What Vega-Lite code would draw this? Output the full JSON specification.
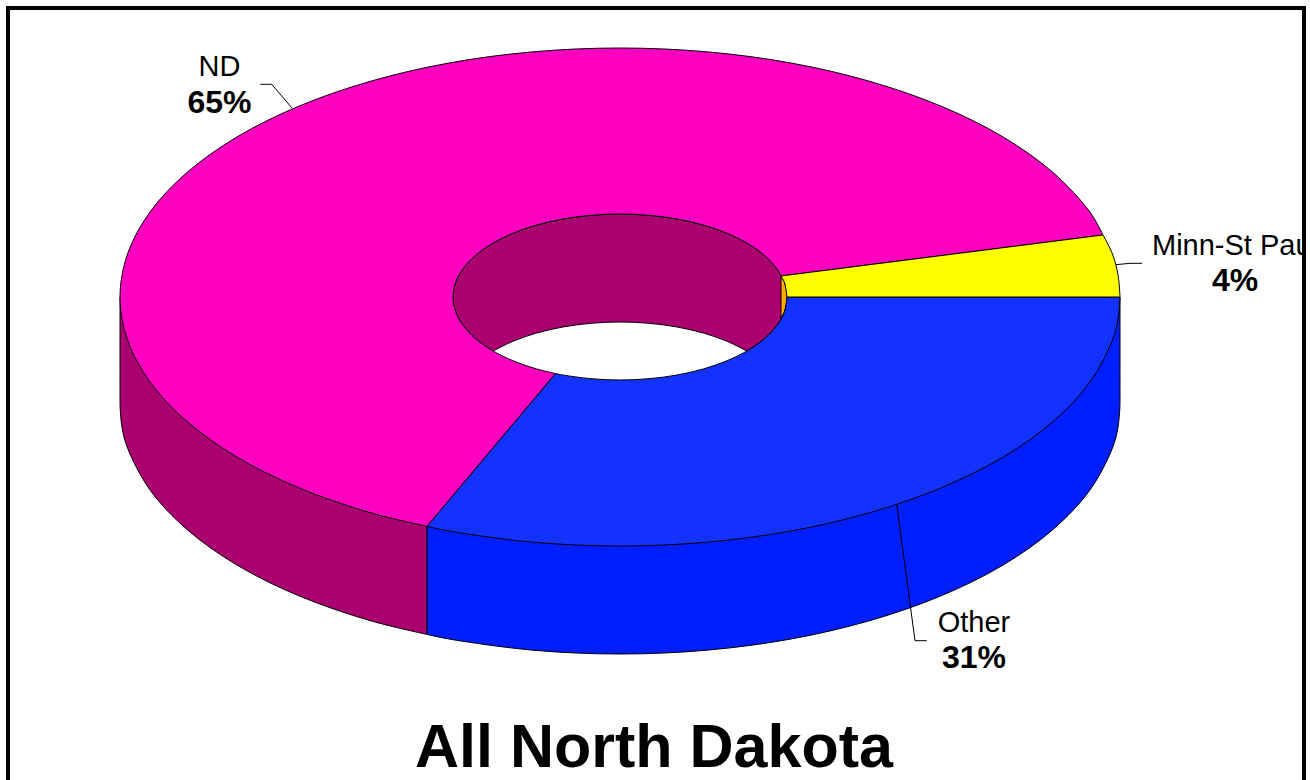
{"$schema":"https://vega.github.io/schema/vega-lite/v6.json","width":1310,"height":780,"padding":0,"autosize":{"type":"none"},"background":"white","config":{"view":{"stroke":null}},
"title":{"text":"All North Dakota","font":"Liberation Sans","fontSize":61,"fontWeight":"bold","color":"black","orient":"bottom","anchor":"middle","baseline":"alphabetic","offset":-41,"dx":-1},
"datasets":{
"sideND":[{"x":120,"y":297},{"x":120,"y":297},{"x":120,"y":405},{"x":120,"y":405},{"x":121.9,"y":426.7},{"x":127.6,"y":448.2},{"x":150.2,"y":490.2},{"x":187,"y":529.5},{"x":237,"y":565.1},{"x":298.6,"y":595.7},{"x":370,"y":620.6},{"x":427,"y":634.4},{"x":427,"y":634.4},{"x":427,"y":526.4},{"x":427,"y":526.4},{"x":120,"y":297},{"x":120,"y":297}],
"sideOther":[{"x":427,"y":526.4},{"x":427,"y":526.4},{"x":427,"y":634.4},{"x":427,"y":634.4},{"x":449,"y":639},{"x":533.2,"y":650.2},{"x":620,"y":654},{"x":706.8,"y":650.2},{"x":791,"y":639},{"x":870,"y":620.6},{"x":941.4,"y":595.7},{"x":1003,"y":565.1},{"x":1053,"y":529.5},{"x":1089.8,"y":490.2},{"x":1112.4,"y":448.2},{"x":1118.1,"y":426.7},{"x":1120,"y":405},{"x":1120,"y":405},{"x":1120,"y":297},{"x":1120,"y":297},{"x":427,"y":526.4},{"x":427,"y":526.4}],
"hole":[{"x":787,"y":297},{"x":784.5,"y":282.6},{"x":776.9,"y":268.6},{"x":764.6,"y":255.5},{"x":747.9,"y":243.6},{"x":727.3,"y":233.4},{"x":703.5,"y":225.1},{"x":677.1,"y":219},{"x":649,"y":215.3},{"x":620,"y":214},{"x":591,"y":215.3},{"x":562.9,"y":219},{"x":536.5,"y":225.1},{"x":512.7,"y":233.4},{"x":492.1,"y":243.6},{"x":475.4,"y":255.5},{"x":463.1,"y":268.6},{"x":455.5,"y":282.6},{"x":453,"y":297},{"x":455.5,"y":311.4},{"x":463.1,"y":325.4},{"x":475.4,"y":338.5},{"x":492.1,"y":350.4},{"x":512.7,"y":360.6},{"x":536.5,"y":368.9},{"x":562.9,"y":375},{"x":591,"y":378.7},{"x":620,"y":380},{"x":649,"y":378.7},{"x":677.1,"y":375},{"x":703.5,"y":368.9},{"x":727.3,"y":360.6},{"x":747.9,"y":350.4},{"x":764.6,"y":338.5},{"x":776.9,"y":325.4},{"x":784.5,"y":311.4}],
"wall":[{"x":781,"y":276},{"x":781,"y":276},{"x":784.5,"y":282.6},{"x":787,"y":297},{"x":784.5,"y":311.4},{"x":781,"y":318},{"x":781,"y":318},{"x":781,"y":276},{"x":781,"y":276}],
"gap":[{"x":492.1,"y":351.6},{"x":492.1,"y":351.6},{"x":512.7,"y":341.4},{"x":536.5,"y":333.1},{"x":562.9,"y":327},{"x":591,"y":323.3},{"x":620,"y":322},{"x":649,"y":323.3},{"x":677.1,"y":327},{"x":703.5,"y":333.1},{"x":727.3,"y":341.4},{"x":747.9,"y":351.6},{"x":747.9,"y":351.6},{"x":747.9,"y":385},{"x":747.9,"y":385},{"x":492.1,"y":385},{"x":492.1,"y":385},{"x":492.1,"y":351.6},{"x":492.1,"y":351.6}],
"topND":[{"x":1103,"y":235},{"x":1103,"y":235},{"x":1089.8,"y":211.8},{"x":1053,"y":172.5},{"x":1003,"y":136.9},{"x":941.4,"y":106.3},{"x":870,"y":81.4},{"x":791,"y":63},{"x":706.8,"y":51.8},{"x":620,"y":48},{"x":533.2,"y":51.8},{"x":449,"y":63},{"x":370,"y":81.4},{"x":298.6,"y":106.3},{"x":237,"y":136.9},{"x":187,"y":172.5},{"x":150.2,"y":211.8},{"x":127.6,"y":253.8},{"x":120,"y":297},{"x":127.6,"y":340.2},{"x":150.2,"y":382.2},{"x":187,"y":421.5},{"x":237,"y":457.1},{"x":298.6,"y":487.7},{"x":370,"y":512.6},{"x":427,"y":526.4},{"x":427,"y":526.4},{"x":555.6,"y":373.6},{"x":555.6,"y":373.6},{"x":536.5,"y":368.9},{"x":512.7,"y":360.6},{"x":492.1,"y":350.4},{"x":475.4,"y":338.5},{"x":463.1,"y":325.4},{"x":455.5,"y":311.4},{"x":453,"y":297},{"x":455.5,"y":282.6},{"x":463.1,"y":268.6},{"x":475.4,"y":255.5},{"x":492.1,"y":243.6},{"x":512.7,"y":233.4},{"x":536.5,"y":225.1},{"x":562.9,"y":219},{"x":591,"y":215.3},{"x":620,"y":214},{"x":649,"y":215.3},{"x":677.1,"y":219},{"x":703.5,"y":225.1},{"x":727.3,"y":233.4},{"x":747.9,"y":243.6},{"x":764.6,"y":255.5},{"x":776.9,"y":268.6},{"x":781,"y":276},{"x":781,"y":276},{"x":1103,"y":235},{"x":1103,"y":235}],
"topOther":[{"x":427,"y":526.4},{"x":427,"y":526.4},{"x":449,"y":531},{"x":533.2,"y":542.2},{"x":620,"y":546},{"x":706.8,"y":542.2},{"x":791,"y":531},{"x":870,"y":512.6},{"x":941.4,"y":487.7},{"x":1003,"y":457.1},{"x":1053,"y":421.5},{"x":1089.8,"y":382.2},{"x":1112.4,"y":340.2},{"x":1118.1,"y":318.7},{"x":1120,"y":297},{"x":1120,"y":297},{"x":787,"y":297},{"x":787,"y":297},{"x":784.5,"y":311.4},{"x":776.9,"y":325.4},{"x":764.6,"y":338.5},{"x":747.9,"y":350.4},{"x":727.3,"y":360.6},{"x":703.5,"y":368.9},{"x":677.1,"y":375},{"x":649,"y":378.7},{"x":620,"y":380},{"x":591,"y":378.7},{"x":562.9,"y":375},{"x":555.6,"y":373.6},{"x":555.6,"y":373.6},{"x":427,"y":526.4},{"x":427,"y":526.4}],
"topMinn":[{"x":1120,"y":297},{"x":1120,"y":297},{"x":1118.1,"y":275.3},{"x":1112.4,"y":253.8},{"x":1103,"y":235},{"x":1103,"y":235},{"x":781,"y":276},{"x":781,"y":276},{"x":784.5,"y":282.6},{"x":787,"y":297},{"x":787,"y":297},{"x":1120,"y":297},{"x":1120,"y":297}],
"leaders":[{"slice":"ND","x":260.3,"y":84.3},{"slice":"ND","x":271.7,"y":84.3},{"slice":"ND","x":292.3,"y":108.3},{"slice":"Minn-St Paul","x":1116,"y":264.7},{"slice":"Minn-St Paul","x":1130,"y":263.3},{"slice":"Minn-St Paul","x":1142,"y":263.3},{"slice":"Other","x":896.7,"y":504.3},{"slice":"Other","x":915,"y":640.7},{"slice":"Other","x":926.7,"y":640.7}],
"labels":[{"name":"ND","share":"65%","x":219.5,"y":76,"y2":113},{"name":"Minn-St Paul","share":"4%","x":1235,"y":255,"y2":291},{"name":"Other","share":"31%","x":974,"y":632,"y2":668}],
"margin":[{"x":1306,"x2":1312,"y":0,"y2":780}],
"frame":[{"x":8,"y":800},{"x":8,"y":8},{"x":1304,"y":8},{"x":1304,"y":800}]
},
"encoding":{"x":{"field":"x","type":"quantitative","scale":{"domain":[0,1310],"nice":false,"zero":false},"axis":null},"y":{"field":"y","type":"quantitative","scale":{"domain":[780,0],"nice":false,"zero":false},"axis":null}},
"layer":[
{"data":{"name":"sideND"},"mark":{"type":"line","interpolate":"catmull-rom","fill":"#AA0070","stroke":"black","strokeWidth":1},"encoding":{"order":{"value":null}}},
{"data":{"name":"sideOther"},"mark":{"type":"line","interpolate":"catmull-rom","fill":"#001EFF","stroke":"black","strokeWidth":1},"encoding":{"order":{"value":null}}},
{"data":{"name":"hole"},"mark":{"type":"line","interpolate":"cardinal-closed","tension":0,"fill":"#AA0070","stroke":"black","strokeWidth":1},"encoding":{"order":{"value":null}}},
{"data":{"name":"wall"},"mark":{"type":"line","interpolate":"catmull-rom","fill":"#FFAA00","stroke":"black","strokeWidth":1},"encoding":{"order":{"value":null}}},
{"data":{"name":"gap"},"mark":{"type":"line","interpolate":"catmull-rom","fill":"white","stroke":"black","strokeWidth":1},"encoding":{"order":{"value":null}}},
{"data":{"name":"topND"},"mark":{"type":"line","interpolate":"catmull-rom","fill":"#FF00C0","stroke":"black","strokeWidth":1},"encoding":{"order":{"value":null}}},
{"data":{"name":"topOther"},"mark":{"type":"line","interpolate":"catmull-rom","fill":"#1432FF","stroke":"black","strokeWidth":1},"encoding":{"order":{"value":null}}},
{"data":{"name":"topMinn"},"mark":{"type":"line","interpolate":"catmull-rom","fill":"#FFFF00","stroke":"black","strokeWidth":1},"encoding":{"order":{"value":null}}},
{"data":{"name":"leaders"},"mark":{"type":"line","stroke":"black","strokeWidth":1},"encoding":{"detail":{"field":"slice"},"order":{"value":null}}},
{"data":{"name":"labels"},"mark":{"type":"text","font":"Liberation Sans","fontSize":29,"align":"center","baseline":"alphabetic","color":"black"},"encoding":{"text":{"field":"name"}}},
{"data":{"name":"labels"},"mark":{"type":"text","font":"Liberation Sans","fontSize":32,"fontWeight":"bold","align":"center","baseline":"alphabetic","color":"black"},"encoding":{"text":{"field":"share"},"y":{"field":"y2","type":"quantitative","scale":{"domain":[780,0],"nice":false,"zero":false},"axis":null}}},
{"data":{"name":"margin"},"mark":{"type":"rect","fill":"white"},"encoding":{"x":{"field":"x","type":"quantitative"},"x2":{"field":"x2"},"y":{"field":"y","type":"quantitative"},"y2":{"field":"y2"}}},
{"data":{"name":"frame"},"mark":{"type":"line","stroke":"black","strokeWidth":4,"strokeJoin":"miter"},"encoding":{"order":{"value":null}}}
]}
